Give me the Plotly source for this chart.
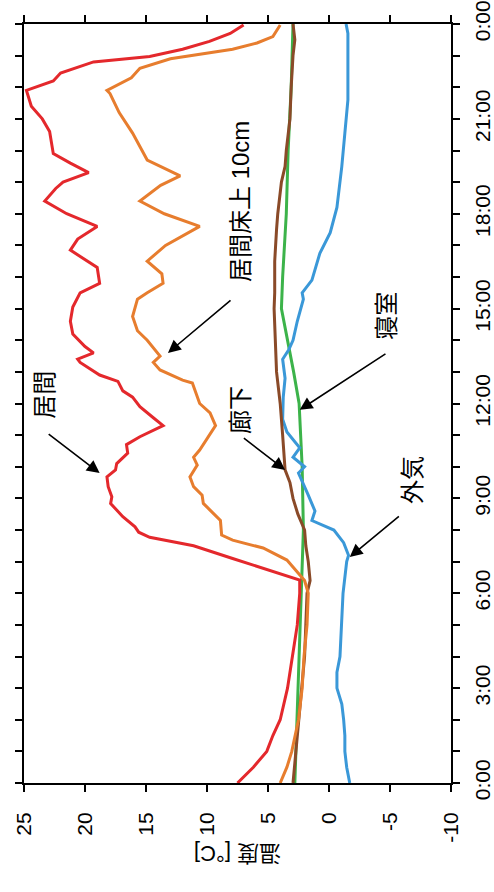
import plotly.graph_objects as go

# ---- data (time in hours, temperature in deg C) ----
red_t = [0, 0.5, 1, 1.5, 2, 3, 4, 5, 6, 6.42, 7.1, 7.5, 7.77, 7.93, 8.1, 8.42, 8.84, 9.05, 9.37, 9.68,
         9.9, 10.1, 10.43, 10.7, 10.95, 11.15, 11.3, 11.55, 11.9, 12.2, 12.4, 12.7, 12.9, 13.3, 13.4,
         13.6, 13.8, 14.2, 14.6, 15.05, 15.5, 15.8, 16.3, 16.85, 17.2, 17.6, 18.0, 18.4, 18.8, 19.0,
         19.3, 19.6, 19.9, 20.6, 21.0, 21.4, 21.9, 22.2, 22.45, 22.8, 22.97, 23.2, 23.45, 23.7, 23.97]
red_v = [7.5, 6.2, 5.1, 4.6, 4.0, 3.4, 3.0, 2.6, 2.4, 2.4, 7.9, 11.1, 14.7, 15.6, 15.9, 16.9, 17.9, 17.8, 18.1, 18.2,
         17.5, 17.4, 16.5, 16.6, 15.5, 14.4, 13.6, 14.4, 15.5, 16.1, 16.9, 17.3, 18.8, 20.4, 20.6,
         19.3, 20.0, 21.0, 21.2, 21.0, 20.4, 18.8, 19.0, 21.2, 20.6, 19.0, 21.5, 23.3, 22.4, 21.8,
         19.7, 21.2, 22.6, 22.9, 23.5, 24.4, 24.8, 22.6, 22.0, 19.3, 14.7, 12.0, 9.8, 8.1, 7.0]

orange_t = [0, 0.5, 1, 2, 3, 4, 5, 6, 6.4, 7.05, 7.43, 7.68, 7.84, 8.3, 8.63, 8.84, 9.1, 9.37, 9.68,
            10.05, 10.3, 10.53, 11.3, 11.7, 12.0, 12.65, 12.74, 13.06, 13.3, 13.5, 14.0, 14.3, 14.75,
            15.3, 15.5, 15.8, 16.1, 16.5, 17.0, 17.6, 18.0, 18.4, 18.9, 19.2, 19.7, 20.55, 21.2, 21.8,
            21.9, 22.3, 22.6, 22.9, 23.2, 23.4, 23.6, 23.97]
orange_v = [4.0, 3.45, 3.05, 2.5, 2.2, 2.05, 1.8, 1.7, 2.0, 3.45, 5.4, 7.9, 8.8, 8.9, 9.75, 10.3, 10.4, 11.1, 11.4,
            10.8, 11.1, 10.6, 9.3, 9.75, 10.6, 11.2, 12.0, 13.85, 14.4, 13.85, 14.9, 15.7, 16.1,
            15.7, 14.9, 13.6, 13.7, 14.9, 13.4, 10.6, 13.5, 15.5, 13.8, 12.2, 14.9, 16.1, 17.2, 17.95,
            18.2, 16.2, 15.5, 13.0, 7.9, 5.9, 4.6, 4.0]

brown_t = [0, 1, 2, 3, 4, 5, 6, 6.4, 7, 7.5, 8, 8.5, 9, 9.5, 9.9, 11, 12, 13, 14, 15, 15.5, 16.5,
           17.5, 18, 19, 19.5, 20, 21, 22, 23, 23.5, 24]
brown_v = [2.95, 2.7, 2.45, 2.2, 2.0, 1.9, 1.8, 1.55, 1.7, 1.9, 2.0, 2.55, 2.95, 3.2, 3.6, 3.8, 4.0, 4.3, 4.4, 4.5,
           4.45, 4.45, 4.3, 4.2, 3.9, 3.6, 3.5, 3.2, 3.1, 2.95, 2.8, 2.95]

green_t = [0, 3, 6, 8, 10, 12, 13, 14, 15, 16, 18, 20, 22, 24]
green_v = [2.8, 2.55, 2.25, 2.1, 2.2, 2.45, 2.9, 3.4, 3.9, 3.8, 3.5, 3.35, 3.1, 2.95]

blue_t = [0, 0.5, 1, 1.5, 2, 2.5, 3, 3.5, 4, 5, 6, 7, 7.2, 7.6, 8.0, 8.3, 8.6, 9.1, 9.8, 10.0, 10.3,
          10.6, 10.85, 11.1, 11.5, 12.2, 12.8, 13.4, 13.7, 14.0, 14.6, 15.3, 15.5, 15.9, 16.75, 17.4,
          18.2, 19.5, 20.55, 21.6, 22.6, 23.7, 24]
blue_v = [-1.7, -1.45, -1.3, -1.3, -1.2, -1.05, -0.65, -0.65, -0.9, -1.05, -1.15, -1.45, -1.6, -1.2, -0.4, 1.4,
          1.15, 1.7, 2.5, 2.0, 2.95, 2.4, 2.95, 3.45, 3.8, 3.75, 3.6, 3.8, 3.3, 2.95, 2.6, 2.1, 2.2,
          1.4, 0.75, -0.1, -0.65, -1.05, -1.3, -1.55, -1.55, -1.55, -1.4]

temp_ticks = [25, 20, 15, 10, 5, 0, -5, -10]
hour_ticks = list(range(0, 25))
hour_text = [("%d:00" % (h % 24)) if h % 3 == 0 else "" for h in hour_ticks]

labels = ["居間", "居間床上 10cm", "廊下", "寝室", "外気"]
label_pos = [(23.3, 12.27), (7.3, 18.4), (7.2, 11.8), (-4.75, 14.77), (-6.8, 9.58)]
arrow_tail = [(23.1, 11.07), (7.95, 15.3), (7.1, 10.94), (-4.75, 13.6), (-5.85, 8.47)]
arrow_head = [(18.8, 9.8), (13.2, 13.6), (3.6, 9.9), (2.4, 11.8), (-1.7, 7.15)]

FONT = "Liberation Sans, Arial, Noto Sans CJK JP"

fig = go.Figure()
series = [
    (green_t, green_v, "#3cb34a"),
    (blue_t, blue_v, "#3a98d8"),
    (brown_t, brown_v, "#8a4a28"),
    (orange_t, orange_v, "#e77d2e"),
    (red_t, red_v, "#e4282c"),
]
for t, v, c in series:
    fig.add_trace(go.Scatter(x=v, y=t, mode="lines", line=dict(color=c, width=3),
                             showlegend=False, hoverinfo="skip"))

for txt, (px, py) in zip(labels, label_pos):
    fig.add_annotation(x=px, y=py, xref="x", yref="y", text=txt, showarrow=False,
                       textangle=-90, font=dict(family=FONT, size=24, color="black"))
for (tx, ty), (hx, hy) in zip(arrow_tail, arrow_head):
    fig.add_annotation(x=hx, y=hy, xref="x", yref="y", ax=tx, ay=ty, axref="x", ayref="y",
                       text="", showarrow=True, arrowhead=2, arrowsize=1.6, arrowwidth=1.6,
                       arrowcolor="black")

fig.add_annotation(x=0.5, y=-0.112, xref="paper", yref="paper", text="温度 [°C]",
                   showarrow=False, textangle=180, font=dict(family=FONT, size=22, color="black"))

fig.update_xaxes(range=[25, -10], tickvals=temp_ticks, ticktext=[str(v) for v in temp_ticks],
                 tickangle=-90, ticks="outside", ticklen=7, tickwidth=2, tickcolor="black",
                 showline=True, linecolor="black", linewidth=2, mirror="ticks",
                 showgrid=False, zeroline=False, ticklabelstandoff=12, automargin=False,
                 tickfont=dict(family=FONT, size=21, color="black"))
fig.update_yaxes(range=[0, 24], side="right", tickvals=hour_ticks, ticktext=hour_text,
                 tickangle=-90, ticks="outside", ticklen=7, tickwidth=2, tickcolor="black",
                 showline=True, linecolor="black", linewidth=2, mirror="ticks",
                 showgrid=False, zeroline=False, ticklabelstandoff=5, automargin=False,
                 tickfont=dict(family=FONT, size=21, color="black"))

fig.update_layout(width=494, height=892, margin=dict(l=24, r=43, t=24, b=109),
                  plot_bgcolor="white", paper_bgcolor="white")

fig.write_html("out.html")
